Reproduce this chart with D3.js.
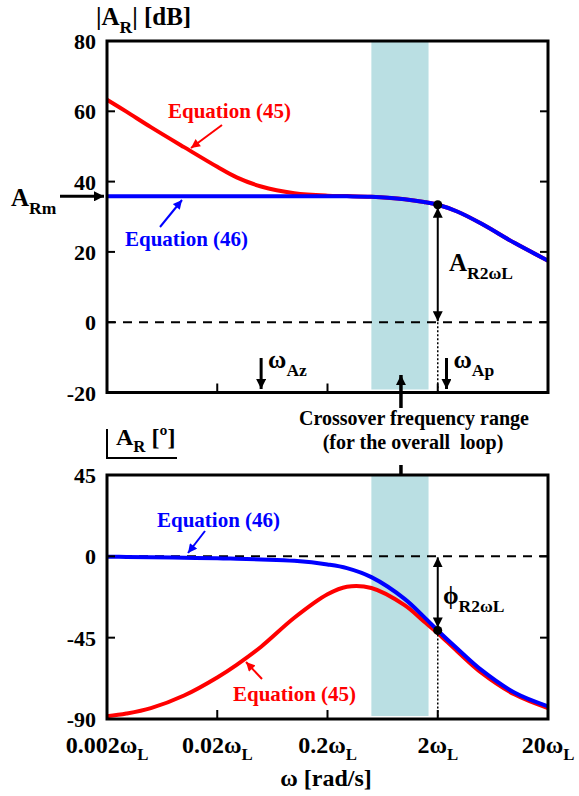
<!DOCTYPE html>
<html>
<head>
<meta charset="utf-8">
<script src="https://cdn.jsdelivr.net/npm/d3@7"></script>
<style>
  body { margin: 0; background: #fff; }
  svg text { font-family: "Liberation Serif", "Times New Roman", serif; font-weight: bold; }
</style>
</head>
<body>
<svg id="chart" width="579" height="796"></svg>
<script>
// frequencies as multiples of omega_L
const freqs      = [0.002, 0.003, 0.005, 0.01, 0.02, 0.03, 0.05, 0.1, 0.2, 0.3, 0.5, 1, 1.5, 2, 3, 5, 10, 20];
// magnitude |A_R| in dB
const magEq45    = [63.3, 59.9, 55.5, 49.8, 44.2, 41.2, 38.6, 36.7, 36.0, 35.9, 35.7, 35.0, 34.2, 33.4, 31.5, 28.0, 22.5, 17.5];
const magEq46    = [35.8, 35.8, 35.8, 35.8, 35.8, 35.8, 35.8, 35.8, 35.8, 35.8, 35.7, 35.0, 34.2, 33.4, 31.5, 28.0, 22.5, 17.5];
// phase in degrees
const phaseEq45  = [-88.5, -87, -84, -77, -67, -60, -50, -34, -21, -16.8, -17.5, -27, -36, -42.5, -52.5, -64.5, -76.5, -84];
const phaseEq46  = [-0.2, -0.3, -0.5, -0.8, -1, -1.3, -1.7, -2.5, -4.5, -6.5, -11.5, -23.5, -33.5, -41, -51, -63, -75.5, -83];

const xTicks     = [0.002, 0.02, 0.2, 2, 20];
const xTickText  = ["0.002", "0.02", "0.2", "2", "20"];
const magTicks   = [80, 60, 40, 20, 0, -20];
const phaseTicks = [45, 0, -45, -90];
const bandRange  = [0.5, 1.65];   // crossover frequency range
const crossFreq  = 2;             // 2 omega_L marker
const magRm      = 35.8;
const wAz        = 0.05;
const wAp        = 2.4;

const svg = d3.select("#chart");

const x = d3.scaleLog().domain([0.002, 20]).range([107, 548]);
const yMag = d3.scaleLinear().domain([-20, 80]).range([392.5, 41]);
const yPh  = d3.scaleLinear().domain([-90, 45]).range([719, 475]);

const RED = "#ff0000", BLUE = "#0000ff", BAND = "#badfe3";

// arrow marker
const defs = svg.append("defs");
defs.append("marker")
  .attr("id", "head")
  .attr("viewBox", "0 0 10 10")
  .attr("refX", 10).attr("refY", 5)
  .attr("markerWidth", 10).attr("markerHeight", 10)
  .attr("markerUnits", "userSpaceOnUse")
  .attr("orient", "auto-start-reverse")
  .append("path").attr("d", "M0,0 L10,5 L0,10 Z").attr("fill", "#000");
["red", "blue"].forEach((name, i) => {
  defs.append("marker")
    .attr("id", "head-" + name)
    .attr("viewBox", "0 0 10 10")
    .attr("refX", 10).attr("refY", 5)
    .attr("markerWidth", 10).attr("markerHeight", 9)
    .attr("markerUnits", "userSpaceOnUse")
    .attr("orient", "auto")
    .append("path").attr("d", "M0,0 L10,5 L0,10 Z").attr("fill", i ? BLUE : RED);
});

// text with subscripts: parts = [[text, isSub], ...]
function richText(px, py, parts, size, color, anchor) {
  const t = svg.append("text")
    .attr("x", px).attr("y", py)
    .attr("font-size", size)
    .attr("fill", color || "#000")
    .attr("text-anchor", anchor || "start");
  let sub = false;
  parts.forEach(([s, isSub]) => {
    const ts = t.append("tspan").text(s);
    if (isSub && !sub) ts.attr("dy", size * 0.3).attr("font-size", size * 0.7);
    else if (isSub) ts.attr("font-size", size * 0.7);
    else if (!isSub && sub) ts.attr("dy", -size * 0.3);
    sub = isSub;
  });
  return t;
}

function arrow(x1, y1, x2, y2, opts = {}) {
  const l = svg.append("line")
    .attr("x1", x1).attr("y1", y1).attr("x2", x2).attr("y2", y2)
    .attr("stroke", opts.color || "#000")
    .attr("stroke-width", opts.width || 2)
    .attr("marker-end", `url(#${opts.marker || "head"})`);
  if (opts.both) l.attr("marker-start", "url(#head)");
  return l;
}

function panel(y, ticks, top, bottom, series) {
  // crossover band
  svg.append("rect")
    .attr("x", x(bandRange[0])).attr("y", y(top))
    .attr("width", x(bandRange[1]) - x(bandRange[0]))
    .attr("height", y(bottom) - y(top) - 3)
    .attr("fill", BAND);

  // zero dashed line
  svg.append("line")
    .attr("x1", x(0.002)).attr("x2", x(20))
    .attr("y1", y(0)).attr("y2", y(0))
    .attr("stroke", "#000").attr("stroke-width", 2)
    .attr("stroke-dasharray", "9,7");

  const line = d3.line()
    .x(d => x(d[0])).y(d => y(d[1]))
    .curve(d3.curveCatmullRom.alpha(0.5));
  series.forEach(s => {
    svg.append("path")
      .datum(freqs.map((f, i) => [f, s.values[i]]))
      .attr("d", line)
      .attr("fill", "none")
      .attr("stroke", s.color)
      .attr("stroke-width", 4);
  });

  // frame
  svg.append("rect")
    .attr("x", x(0.002)).attr("y", y(top))
    .attr("width", x(20) - x(0.002))
    .attr("height", y(bottom) - y(top))
    .attr("fill", "none").attr("stroke", "#000").attr("stroke-width", 3);

  // y ticks (inside, mirrored)
  ticks.forEach(v => {
    if (v !== top && v !== bottom) {
      svg.append("line").attr("x1", x(0.002)).attr("x2", x(0.002) + 8)
        .attr("y1", y(v)).attr("y2", y(v)).attr("stroke", "#000").attr("stroke-width", 2);
      svg.append("line").attr("x1", x(20)).attr("x2", x(20) - 8)
        .attr("y1", y(v)).attr("y2", y(v)).attr("stroke", "#000").attr("stroke-width", 2);
    }
    svg.append("text")
      .attr("x", 96).attr("y", y(v) + 8)
      .attr("text-anchor", "end")
      .attr("font-size", 22)
      .text(v);
  });

  // x ticks
  xTicks.slice(1, -1).forEach(f => {
    svg.append("line").attr("x1", x(f)).attr("x2", x(f))
      .attr("y1", y(bottom)).attr("y2", y(bottom) - 9)
      .attr("stroke", "#000").attr("stroke-width", 2);
  });
}

// ---------- magnitude panel ----------
panel(yMag, magTicks, 80, -20, [
  { values: magEq45, color: RED },
  { values: magEq46, color: BLUE }
]);

richText(96, 25, [["|A", false], ["R", true], ["| [dB]", false]], 25);

// A_Rm arrow
richText(11, 206, [["A", false], ["Rm", true]], 25);
arrow(60, yMag(magRm), 104, yMag(magRm), { width: 3 });

// crossover point and A_R2wL
const magAt2 = magEq46[freqs.indexOf(crossFreq)];
svg.append("line")
  .attr("x1", x(crossFreq)).attr("x2", x(crossFreq))
  .attr("y1", yMag(0)).attr("y2", yMag(-20))
  .attr("stroke", "#000").attr("stroke-width", 1.5).attr("stroke-dasharray", "2,2");
arrow(x(crossFreq), yMag(0) - 1, x(crossFreq), yMag(magAt2) + 3, { both: true });
svg.append("circle").attr("cx", x(crossFreq)).attr("cy", yMag(magAt2)).attr("r", 4.5);
richText(449, 271, [["A", false], ["R2ωL", true]], 25);

// Equation labels (magnitude)
svg.append("text").attr("x", 168).attr("y", 118).attr("font-size", 21).attr("fill", RED).text("Equation (45)");
arrow(222, 125, 191, 148, { color: RED, marker: "head-red" });
svg.append("text").attr("x", 125).attr("y", 246).attr("font-size", 21).attr("fill", BLUE).text("Equation (46)");
arrow(160, 227, 182, 200, { color: BLUE, marker: "head-blue" });

// omega_Az / omega_Ap
arrow(x(wAz), 358, x(wAz), 389, { width: 3 });
richText(x(wAz) + 7, 368, [["ω", false], ["Az", true]], 25);
arrow(x(wAp), 358, x(wAp), 389, { width: 3 });
richText(x(wAp) + 7, 368, [["ω", false], ["Ap", true]], 25);

// crossover note
const midBand = x(Math.sqrt(bandRange[0] * bandRange[1])) + 1;
arrow(midBand, 408, midBand, 375, { width: 3.5 });
svg.append("text").attr("x", 414).attr("y", 425).attr("text-anchor", "middle").attr("font-size", 20)
  .text("Crossover frequency range");
svg.append("text").attr("x", 413).attr("y", 449).attr("text-anchor", "middle").attr("font-size", 20)
  .attr("xml:space", "preserve")
  .text("(for the overall  loop)");
arrow(midBand, 465, midBand, 498, { width: 3.5 });

// ---------- phase panel ----------
panel(yPh, phaseTicks, 45, -90, [
  { values: phaseEq45, color: RED },
  { values: phaseEq46, color: BLUE }
]);

svg.append("path")
  .attr("d", "M107,429 L107,458 L177,458")
  .attr("fill", "none").attr("stroke", "#000").attr("stroke-width", 2);
richText(116, 445, [["A", false], ["R", true], [" [º]", false]], 24);

const phAt2 = phaseEq46[freqs.indexOf(crossFreq)];
svg.append("line")
  .attr("x1", x(crossFreq)).attr("x2", x(crossFreq))
  .attr("y1", yPh(phAt2)).attr("y2", yPh(-90))
  .attr("stroke", "#000").attr("stroke-width", 1.5).attr("stroke-dasharray", "2,2");
arrow(x(crossFreq), yPh(0) + 1, x(crossFreq), yPh(phAt2) - 3, { both: true });
svg.append("circle").attr("cx", x(crossFreq)).attr("cy", yPh(phAt2)).attr("r", 4.5);
richText(443, 604, [["ϕ", false], ["R2ωL", true]], 25);

svg.append("text").attr("x", 157).attr("y", 527).attr("font-size", 21).attr("fill", BLUE).text("Equation (46)");
arrow(205, 531, 188, 553, { color: BLUE, marker: "head-blue" });
svg.append("text").attr("x", 233).attr("y", 701).attr("font-size", 21).attr("fill", RED).text("Equation (45)");
arrow(262, 679, 246, 662, { color: RED, marker: "head-red" });

// x tick labels
xTicks.forEach((f, i) => {
  richText(x(f), 753, [[xTickText[i] + "ω", false], ["L", true]], 24, "#000", "middle");
});
svg.append("text").attr("x", 326).attr("y", 786).attr("text-anchor", "middle").attr("font-size", 24)
  .text("ω [rad/s]");
</script>
</body>
</html>
